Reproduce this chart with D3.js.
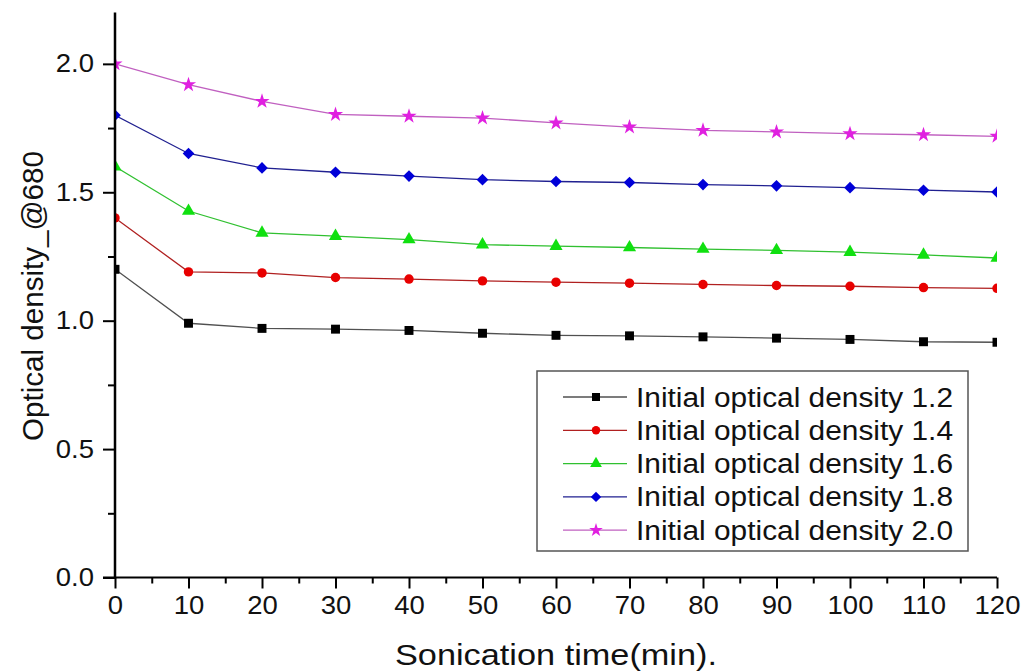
<!DOCTYPE html>
<html lang="en">
<head>
  <meta charset="UTF-8" />
  <title>Optical density vs sonication time</title>
  <script src="https://d3js.org/d3.v7.min.js"></script>
  <style>
    body { margin: 0; background: white; }
    svg text { font-family: "Liberation Sans", Arial, sans-serif; fill: #111; }
  </style>
</head>
<body>
<svg id="chart" width="1027" height="671"></svg>
<script>
// Data
const time = [0, 10, 20, 30, 40, 50, 60, 70, 80, 90, 100, 110, 120];
const od12 = [1.20, 0.99, 0.97, 0.967, 0.962, 0.951, 0.943, 0.941, 0.937, 0.932, 0.927, 0.918, 0.916];
const od14 = [1.40, 1.19, 1.186, 1.168, 1.162, 1.155, 1.150, 1.146, 1.141, 1.137, 1.134, 1.129, 1.126];
const od16 = [1.60, 1.427, 1.342, 1.329, 1.316, 1.296, 1.290, 1.285, 1.279, 1.274, 1.267, 1.256, 1.244];
const od18 = [1.80, 1.651, 1.595, 1.578, 1.563, 1.549, 1.542, 1.538, 1.530, 1.525, 1.518, 1.508, 1.501];
const od20 = [2.00, 1.919, 1.854, 1.803, 1.796, 1.789, 1.770, 1.754, 1.741, 1.735, 1.728, 1.724, 1.718];
const seriesNames = ["Initial optical density 1.2", "Initial optical density 1.4",
  "Initial optical density 1.6", "Initial optical density 1.8", "Initial optical density 2.0"];
const xTicks = [0, 10, 20, 30, 40, 50, 60, 70, 80, 90, 100, 110, 120];
const yTicks = [0.0, 0.5, 1.0, 1.5, 2.0];

// rotate: 45 turns the square into the wide diamond Origin uses
const styles = [
  { fill: "#000000", line: "#505050", symbol: d3.symbolSquare, size: 80, rot: 0 },
  { fill: "#e80000", line: "#b02020", symbol: d3.symbolCircle, size: 70, rot: 0 },
  { fill: "#10e010", line: "#30c030", symbol: d3.symbolTriangle, size: 75, rot: 0 },
  { fill: "#0000d8", line: "#202090", symbol: d3.symbolSquare, size: 68, rot: 45 },
  { fill: "#e020e0", line: "#c060c0", symbol: d3.symbolStar, size: 72, rot: 0 }
];
const allSeries = [od12, od14, od16, od18, od20];

const svg = d3.select("#chart");
const mLeft = 115, mRight = 997, mTop = 12.5, mBottom = 577.5;

const x = d3.scaleLinear().domain([0, 120]).range([mLeft, mRight]);
const y = d3.scaleLinear().domain([0, 2.2]).range([mBottom, mTop]);

svg.append("clipPath").attr("id", "plotclip")
  .append("rect").attr("x", mLeft).attr("y", 0)
  .attr("width", mRight - mLeft).attr("height", mBottom);

// series
const plot = svg.append("g").attr("clip-path", "url(#plotclip)");
const line = d3.line().x((d, i) => x(time[i])).y(d => y(d));

allSeries.forEach((vals, k) => {
  const st = styles[k];
  plot.append("path")
    .attr("d", line(vals))
    .attr("fill", "none")
    .attr("stroke", st.line)
    .attr("stroke-width", 1.3);
  plot.selectAll(null)
    .data(vals)
    .enter().append("path")
    .attr("transform", (d, i) => `translate(${x(time[i])},${y(d)}) rotate(${st.rot})`)
    .attr("d", d3.symbol().type(st.symbol).size(st.size))
    .attr("fill", st.fill);
});

// axes
const yAxis = svg.append("g").attr("transform", `translate(${mLeft},0)`)
  .call(d3.axisLeft(y).tickValues(yTicks).tickFormat(d3.format(".1f")).tickSize(12).tickPadding(9));
const yMinor = svg.append("g").attr("transform", `translate(${mLeft},0)`)
  .call(d3.axisLeft(y).tickValues([0.25, 0.75, 1.25, 1.75]).tickFormat("").tickSize(7));
const xAxis = svg.append("g").attr("transform", `translate(0,${mBottom})`)
  .call(d3.axisBottom(x).tickValues(xTicks).tickSize(11).tickPadding(8));
const xMinor = svg.append("g").attr("transform", `translate(0,${mBottom})`)
  .call(d3.axisBottom(x).tickValues(d3.range(5, 120, 10)).tickFormat("").tickSize(6));

[yAxis, yMinor, xAxis, xMinor].forEach(g => {
  g.select(".domain").remove();
  g.selectAll(".tick line").attr("stroke", "#000").attr("stroke-width", 2);
  g.selectAll("text").attr("font-size", 25).attr("fill", "#111")
    .attr("font-family", "Liberation Sans, Arial, sans-serif");
});
// the source picture is a bit stretched sideways
[yAxis, xAxis].forEach(g => {
  g.selectAll(".tick text").each(function () {
    const w = this.getComputedTextLength();
    d3.select(this).attr("textLength", w * 1.1).attr("lengthAdjust", "spacingAndGlyphs");
  });
});

svg.append("line").attr("x1", mLeft).attr("x2", mLeft).attr("y1", mTop).attr("y2", mBottom + 1)
  .attr("stroke", "#000").attr("stroke-width", 2.5);
svg.append("line").attr("x1", mLeft - 12).attr("x2", mRight).attr("y1", mBottom).attr("y2", mBottom)
  .attr("stroke", "#000").attr("stroke-width", 2);

// axis titles
svg.append("text")
  .attr("x", 556).attr("y", 665)
  .attr("text-anchor", "middle")
  .attr("font-size", 30)
  .attr("textLength", 322).attr("lengthAdjust", "spacingAndGlyphs")
  .text("Sonication time(min).");

svg.append("text")
  .attr("transform", "translate(43,296) rotate(-90)")
  .attr("text-anchor", "middle")
  .attr("font-size", 29)
  .attr("textLength", 290).attr("lengthAdjust", "spacingAndGlyphs")
  .text("Optical density_@680");

// legend
const legend = svg.append("g");
legend.append("rect")
  .attr("x", 537).attr("y", 371).attr("width", 431).attr("height", 180)
  .attr("fill", "white").attr("stroke", "#555").attr("stroke-width", 1.5);

seriesNames.forEach((name, k) => {
  const st = styles[k];
  const cy = 397 + k * 33.3;
  legend.append("line")
    .attr("x1", 563).attr("x2", 627).attr("y1", cy).attr("y2", cy)
    .attr("stroke", st.line).attr("stroke-width", 1.3);
  legend.append("path")
    .attr("transform", `translate(596,${cy}) rotate(${st.rot})`)
    .attr("d", d3.symbol().type(st.symbol).size(st.size * 0.8))
    .attr("fill", st.fill);
  legend.append("text")
    .attr("x", 636).attr("y", cy + 9.5)
    .attr("font-size", 27)
    .attr("textLength", 317).attr("lengthAdjust", "spacingAndGlyphs")
    .text(name);
});
</script>
</body>
</html>
